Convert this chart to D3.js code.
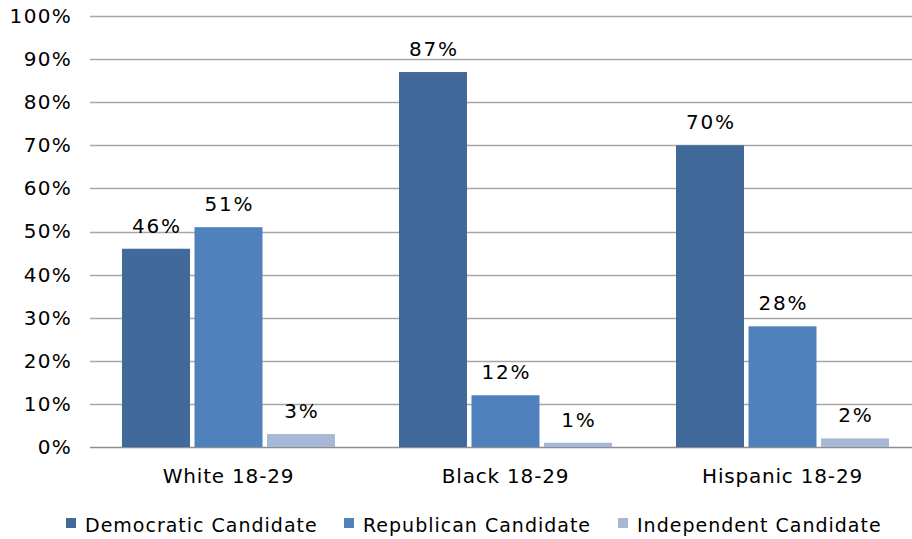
<!DOCTYPE html>
<html>
<head>
<meta charset="utf-8">
<script src="https://cdn.jsdelivr.net/npm/d3@7"></script>
<style>
  html, body { margin: 0; padding: 0; background: #fff; }
  svg { display: block; font-family: "DejaVu Sans", Verdana, sans-serif; }
</style>
</head>
<body>
<svg id="chart" width="912" height="539"></svg>
<script>
// Vote share of young voters by race and candidate party
const categories = ["White 18-29", "Black 18-29", "Hispanic 18-29"];
const seriesNames = ["Democratic Candidate", "Republican Candidate", "Independent Candidate"];
const democratic = [46, 87, 70];
const republican = [51, 12, 28];
const independent = [3, 1, 2];
const yTicks = [0, 10, 20, 30, 40, 50, 60, 70, 80, 90, 100];
const colors = ["#41699A", "#4F81BD", "#A7B8D7"];

const seriesValues = [democratic, republican, independent];
const rows = categories.map((c, i) => ({
  category: c,
  values: seriesNames.map((s, k) => ({ series: s, k, value: seriesValues[k][i] }))
}));

const svg = d3.select("#chart");
const plotLeft = 90, plotRight = 921, plotTop = 16, plotBottom = 447;

const y = d3.scaleLinear().domain([0, 100]).range([plotBottom, plotTop]);
const x0 = d3.scaleBand().domain(categories).range([plotLeft, plotRight])
  .paddingInner(0.231).paddingOuter(0.1155);
const x1 = d3.scaleBand().domain(seriesNames).range([0, x0.bandwidth()]).paddingInner(0.062);

// Horizontal gridlines
svg.append("g").selectAll("line").data(yTicks).join("line")
  .attr("x1", plotLeft).attr("x2", 912)
  .attr("y1", d => Math.round(y(d)) + 0.5).attr("y2", d => Math.round(y(d)) + 0.5)
  .attr("stroke", d => d === 0 ? "#8E8E8E" : "#A6A6A6")
  .attr("stroke-width", 1.5);

// Y axis tick labels
const yAxis = d3.axisLeft(y).tickValues(yTicks).tickFormat(d => d + "%").tickSize(0).tickPadding(0);
const gy = svg.append("g").attr("transform", "translate(72,0)").call(yAxis);
gy.select(".domain").remove();
gy.selectAll("text").attr("font-size", 20).attr("fill", "#000")
  .attr("letter-spacing", 1.3)
  .attr("font-family", "DejaVu Sans, Verdana, sans-serif");

// Bars
const groups = svg.append("g").selectAll("g").data(rows).join("g")
  .attr("transform", d => `translate(${x0(d.category)},0)`);

groups.selectAll("rect").data(d => d.values).join("rect")
  .attr("x", d => x1(d.series))
  .attr("width", x1.bandwidth())
  .attr("y", d => y(d.value))
  .attr("height", d => y(0) - y(d.value))
  .attr("fill", d => colors[d.k]);

// Value labels
groups.selectAll("text").data(d => d.values).join("text")
  .attr("x", d => x1(d.series) + x1.bandwidth() / 2 + 1)
  .attr("y", d => y(d.value) - 16)
  .attr("text-anchor", "middle")
  .attr("font-size", 20)
  .attr("letter-spacing", 1.8)
  .attr("fill", "#000")
  .text(d => d.value + "%");

// Category labels
const xAxis = d3.axisBottom(x0).tickSize(0).tickPadding(0);
const gx = svg.append("g").attr("transform", `translate(0,${plotBottom})`).call(xAxis);
gx.select(".domain").remove();
gx.selectAll("text").attr("font-size", 20).attr("fill", "#000")
  .attr("letter-spacing", 0.8)
  .attr("dy", null).attr("y", 36)
  .attr("font-family", "DejaVu Sans, Verdana, sans-serif");

// Legend
const legendX = [66, 344, 618];
const legend = svg.append("g").selectAll("g").data(seriesNames).join("g")
  .attr("transform", (d, i) => `translate(${legendX[i]},525)`);
legend.append("rect").attr("x", 0).attr("y", -7).attr("width", 10).attr("height", 10)
  .attr("fill", (d, i) => colors[i]);
legend.append("text").attr("x", 19).attr("y", 6.5)
  .attr("font-size", 19).attr("letter-spacing", 1.0).attr("fill", "#000")
  .text(d => d);
</script>
</body>
</html>
